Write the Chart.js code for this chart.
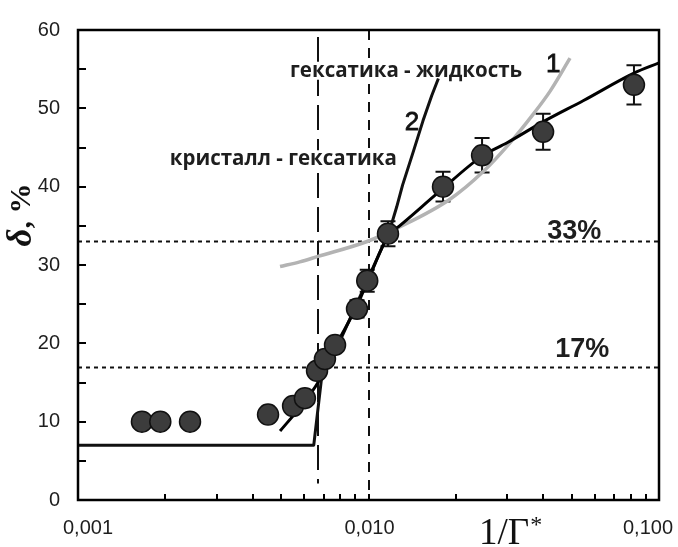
<!DOCTYPE html>
<html>
<head>
<meta charset="utf-8">
<script src="https://cdn.jsdelivr.net/npm/chart.js@4.4.1/dist/chart.umd.min.js"></script>
<style>
  html, body { margin: 0; padding: 0; background: #fff; }
  canvas { display: block; }
</style>
</head>
<body>
<canvas id="chart" width="678" height="547"></canvas>
<script>
// Measured defect fraction δ (%) versus 1/Γ*, with error half-widths
const gammaInv = [0.00166, 0.00192, 0.00243, 0.00451, 0.0055, 0.00604, 0.00665, 0.00708, 0.00767, 0.00913, 0.0099, 0.01167, 0.01805, 0.0246, 0.0399, 0.082];
const delta    = [10.0, 10.0, 10.0, 10.9, 12.0, 13.0, 16.5, 18.0, 19.8, 24.4, 28.0, 34.0, 40.0, 44.0, 47.0, 53.0];
const deltaErr = [0, 0, 0, 0, 0, 0, 0, 0, 0, 1.1, 1.4, 1.6, 1.9, 2.2, 2.3, 2.5];

// Curve 1: fit through the measurements
const curve1X = [0.00496, 0.0058, 0.0067, 0.0078, 0.0091, 0.0100, 0.0118, 0.0127, 0.0172, 0.0246, 0.0300, 0.0400, 0.0550, 0.0820, 0.1000];
const curve1Y = [8.8, 11.8, 15.0, 20.0, 24.7, 28.2, 34.0, 34.9, 39.1, 43.9, 45.6, 48.3, 51.0, 54.5, 55.8];

// Curve 2: plateau, then steep rise
const curve2X = [0.001, 0.00648, 0.0069, 0.0080, 0.0091, 0.0100, 0.0118, 0.0125, 0.0131, 0.0143, 0.0154, 0.0165, 0.0174];
const curve2Y = [7.0, 7.0, 15.7, 20.4, 25.0, 28.4, 34.3, 37.4, 40.2, 44.6, 48.4, 51.6, 53.8];

// Grey model curve
const greyX = [0.00496, 0.0058, 0.0067, 0.00989, 0.01254, 0.01908, 0.02478, 0.0307, 0.0368, 0.0422, 0.0494];
const greyY = [29.8, 30.4, 31.1, 33.0, 34.7, 38.4, 41.9, 45.6, 49.2, 52.2, 56.4];

// Reference levels and phase boundaries
const levels = [17, 33];
const levelLabels = ['17%', '33%'];
const crystalHexaticBoundary = 0.0067;
const hexaticLiquidBoundary = 0.01;

// Axis ticks
const xTickValues = [0.001, 0.01, 0.1];
const xTickLabels = ['0,001', '0,010', '0,100'];
const yMin = 0, yMax = 60, yStep = 10, yMinorStep = 5;

const toXY = (xs, ys) => xs.map((v, i) => ({ x: v, y: ys[i] }));

const TEXT = '#1e1e1e';
const PHASE_FONT = 'bold 20.5px "Open Sans"';

// label anchors in data coordinates
const phaseLabels = [
  { text: 'гексатика - жидкость', x: 0.00537, y: 54.8 },
  { text: 'кристалл - гексатика', x: 0.00207, y: 43.5 }
];
const levelTextPos = [{ x: 0.0439, y: 19.2 }, { x: 0.0412, y: 34.3 }];
const curveTags = [
  { text: '1', x: 0.0432, y: 55.6 },
  { text: '2', x: 0.01412, y: 48.2 }
];

const overlay = {
  id: 'overlay',
  beforeDatasetsDraw(chart) {
    const { ctx, chartArea: a, scales: { x, y } } = chart;
    ctx.save();
    ctx.beginPath();
    ctx.rect(a.left, a.top, a.right - a.left, a.bottom - a.top);
    ctx.clip();

    // dotted horizontal levels
    ctx.strokeStyle = '#111';
    ctx.lineWidth = 2;
    ctx.setLineDash([4, 4]);
    levels.forEach(v => {
      const py = Math.round(y.getPixelForValue(v)) + 0.5;
      ctx.beginPath(); ctx.moveTo(a.left, py); ctx.lineTo(a.right, py); ctx.stroke();
    });

    // long-dashed boundary
    ctx.setLineDash([25, 9]);
    let px = Math.round(x.getPixelForValue(crystalHexaticBoundary));
    ctx.beginPath();
    ctx.moveTo(px, y.getPixelForValue(59.1));
    ctx.lineTo(px, y.getPixelForValue(2.1));
    ctx.stroke();

    // short-dashed boundary
    ctx.setLineDash([10, 8]);
    px = Math.round(x.getPixelForValue(hexaticLiquidBoundary));
    ctx.beginPath();
    ctx.moveTo(px, a.top);
    ctx.lineTo(px, a.bottom);
    ctx.stroke();
    ctx.setLineDash([]);

    // white boxes behind the transition labels
    ctx.font = PHASE_FONT;
    phaseLabels.forEach(l => {
      const lx = x.getPixelForValue(l.x);
      const ly = y.getPixelForValue(l.y);
      const w = ctx.measureText(l.text).width;
      ctx.fillStyle = '#fff';
      ctx.fillRect(lx - 2, ly - 9, w + 4, 18);
    });

    // error bars
    ctx.strokeStyle = '#111';
    ctx.lineWidth = 2;
    gammaInv.forEach((g, i) => {
      const e = deltaErr[i];
      if (!e) return;
      const cx = x.getPixelForValue(g);
      const t = y.getPixelForValue(delta[i] + e);
      const b = y.getPixelForValue(delta[i] - e);
      ctx.beginPath();
      ctx.moveTo(cx, t); ctx.lineTo(cx, b);
      ctx.moveTo(cx - 7.5, t); ctx.lineTo(cx + 7.5, t);
      ctx.moveTo(cx - 7.5, b); ctx.lineTo(cx + 7.5, b);
      ctx.stroke();
    });
    ctx.restore();
  },
  afterDatasetsDraw(chart) {
    const { ctx, scales: { x, y } } = chart;
    ctx.save();
    ctx.fillStyle = TEXT;
    ctx.textBaseline = 'middle';
    ctx.textAlign = 'left';
    ctx.font = PHASE_FONT;
    phaseLabels.forEach(l => {
      ctx.fillText(l.text, x.getPixelForValue(l.x), y.getPixelForValue(l.y));
    });
    ctx.font = 'bold 27px "Liberation Sans"';
    levelTextPos.forEach((p, i) => {
      ctx.fillText(levelLabels[i], x.getPixelForValue(p.x), y.getPixelForValue(p.y));
    });
    ctx.font = '26px "Liberation Sans"';
    ctx.fillStyle = '#111';
    ctx.textAlign = 'center';
    ctx.lineWidth = 0.8;
    ctx.strokeStyle = '#111';
    curveTags.forEach(c => {
      const cx = x.getPixelForValue(c.x), cy = y.getPixelForValue(c.y);
      ctx.fillText(c.text, cx, cy);
      ctx.strokeText(c.text, cx, cy);
    });
    ctx.restore();
  },
  afterDraw(chart) {
    const { ctx, chartArea: a, scales: { x, y } } = chart;
    ctx.save();
    ctx.strokeStyle = '#000';
    // inward tick marks
    ctx.lineWidth = 2;
    ctx.beginPath();
    for (let d = 0.001; d < 0.1 * 1.0001; d *= 10) {
      for (let m = 1; m <= 9; m++) {
        const v = d * m;
        if (v > 0.1 * 1.0001) break;
        const px = Math.round(x.getPixelForValue(v));
        ctx.moveTo(px, a.bottom);
        ctx.lineTo(px, a.bottom - 6);
      }
    }
    for (let v = yMin; v <= yMax; v += yMinorStep) {
      const py = Math.round(y.getPixelForValue(v));
      ctx.moveTo(a.left, py);
      ctx.lineTo(a.left + 8, py);
    }
    ctx.stroke();

    // frame
    ctx.lineWidth = 2.5;
    ctx.strokeRect(a.left, a.top, a.right - a.left, a.bottom - a.top);

    // x tick labels
    ctx.fillStyle = TEXT;
    ctx.font = '20px "Liberation Sans"';
    ctx.textBaseline = 'middle';
    xTickValues.forEach((v, i) => {
      const px = x.getPixelForValue(v);
      if (i === 0) { ctx.textAlign = 'left'; ctx.fillText(xTickLabels[i], px - 15, 528); }
      else if (i === xTickValues.length - 1) { ctx.textAlign = 'right'; ctx.fillText(xTickLabels[i], px + 14, 528); }
      else { ctx.textAlign = 'center'; ctx.fillText(xTickLabels[i], px + 1, 528); }
    });

    // x axis title: 1/Γ*
    ctx.fillStyle = '#111';
    ctx.textBaseline = 'alphabetic';
    ctx.textAlign = 'left';
    ctx.font = '37px "Liberation Serif"';
    const main = '1/Γ';
    const mw = ctx.measureText(main).width;
    const tx = 479;
    ctx.fillText(main, tx, 544);
    ctx.font = '24px "Liberation Serif"';
    ctx.fillText('*', tx + mw + 1, 532);

    // y axis title: δ, %
    ctx.translate(22, 215);
    ctx.rotate(-Math.PI / 2);
    ctx.textBaseline = 'middle';
    ctx.font = 'italic bold 35px "Liberation Serif"';
    const dW = ctx.measureText('δ').width;
    ctx.font = 'bold 30px "Liberation Serif"';
    const rW = ctx.measureText(', %').width;
    const start = -(dW + rW) / 2;
    ctx.textAlign = 'left';
    ctx.font = 'italic bold 35px "Liberation Serif"';
    ctx.fillText('δ', start, 0);
    ctx.font = 'bold 30px "Liberation Serif"';
    ctx.fillText(', %', start + dW, 0);
    ctx.restore();
  }
};

Chart.defaults.font.family = '"Liberation Sans", Arial, sans-serif';

new Chart(document.getElementById('chart'), {
  type: 'scatter',
  data: {
    datasets: [
      {
        label: 'measured',
        data: toXY(gammaInv, delta),
        pointRadius: 10.5,
        pointBackgroundColor: '#3c3c3c',
        pointBorderColor: '#111',
        pointBorderWidth: 1.5,
        showLine: false,
        order: 0
      },
      {
        label: 'curve 1',
        type: 'line',
        data: toXY(curve1X, curve1Y),
        borderColor: '#000',
        borderWidth: 3,
        pointRadius: 0,
        cubicInterpolationMode: 'monotone',
        fill: false,
        order: 1
      },
      {
        label: 'curve 2',
        type: 'line',
        data: toXY(curve2X, curve2Y),
        borderColor: '#111',
        borderWidth: 3,
        pointRadius: 0,
        tension: 0,
        borderJoinStyle: 'round',
        fill: false,
        order: 2
      },
      {
        label: 'grey',
        type: 'line',
        data: toXY(greyX, greyY),
        borderColor: '#b3b3b3',
        borderWidth: 3.5,
        pointRadius: 0,
        cubicInterpolationMode: 'monotone',
        fill: false,
        order: 3
      }
    ]
  },
  options: {
    responsive: false,
    devicePixelRatio: 1,
    animation: false,
    events: [],
    layout: { padding: { left: 0, top: 21, right: 19, bottom: 0 } },
    plugins: { legend: { display: false }, tooltip: { enabled: false } },
    scales: {
      x: {
        type: 'logarithmic',
        min: 0.001,
        max: 0.1,
        grid: { display: false },
        border: { display: false },
        ticks: { display: false },
        afterFit(scale) { scale.height = 47; }
      },
      y: {
        min: yMin,
        max: yMax,
        grid: { display: false, drawTicks: false },
        border: { display: false },
        ticks: {
          stepSize: yStep,
          padding: 18,
          color: TEXT,
          font: { size: 20, family: '"Liberation Sans"' }
        },
        afterFit(scale) { scale.width = 78; }
      }
    }
  },
  plugins: [overlay]
});
</script>
</body>
</html>
